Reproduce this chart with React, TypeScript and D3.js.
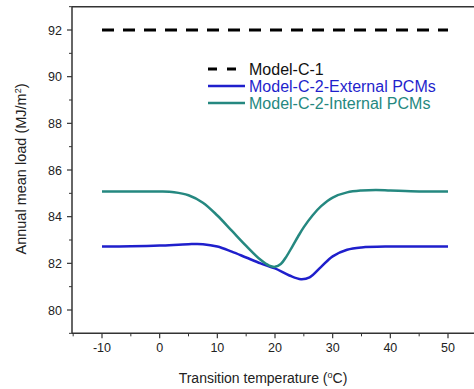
import React from "react";
import * as d3 from "d3";

const seriesNames = ["Model-C-1", "Model-C-2-External PCMs", "Model-C-2-Internal PCMs"];
const seriesColors = ["#000000", "#1f1fcc", "#258880"];

const c1Temps = [-10, 50];
const c1Values = [92, 92];

const extTemps = [-10, -5, 0, 5, 7.5, 10, 12.5, 15, 17.5, 20, 22.5, 24.5, 26, 28, 30, 32.5, 35, 40, 45, 50];
const extValues = [82.72, 82.73, 82.76, 82.82, 82.82, 82.72, 82.5, 82.25, 82.0, 81.78, 81.48, 81.32, 81.4, 81.85, 82.3, 82.58, 82.68, 82.72, 82.72, 82.72];

const intTemps = [-10, -5, 0, 2.5, 5, 7.5, 10, 12.5, 15, 17.5, 19, 20, 21, 22, 23, 24, 25, 26.5, 28, 30, 32.5, 35, 37.5, 40, 45, 50];
const intValues = [85.08, 85.08, 85.08, 85.05, 84.92, 84.6, 84.05, 83.4, 82.75, 82.15, 81.9, 81.85, 81.97, 82.3, 82.72, 83.15, 83.55, 84.05, 84.45, 84.82, 85.04, 85.12, 85.14, 85.12, 85.08, 85.08];

const xTicks = [-10, 0, 10, 20, 30, 40, 50];
const xMinor = [-15, -5, 5, 15, 25, 35, 45];
const yTicks = [80, 82, 84, 86, 88, 90, 92];
const yMinor = [79, 81, 83, 85, 87, 89, 91, 93];

export default function App() {
  const x = d3.scaleLinear().domain([-10, 50]).range([102, 448]);
  const y = d3.scaleLinear().domain([80, 92]).range([310, 30]);
  const left = 72;
  const right = 474;
  const top = y(93);
  const bottom = y(79);
  const line = d3
    .line<[number, number]>()
    .x((d) => x(d[0]))
    .y((d) => y(d[1]))
    .curve(d3.curveCatmullRom.alpha(0.5));
  const zip = (a: number[], b: number[]) => a.map((t, i) => [t, b[i]] as [number, number]);
  const axisColor = "#333";
  const font = "Arial, 'Liberation Sans', sans-serif";
  const legendY = [69, 86, 103];

  return (
    <svg
      width={474}
      height={389}
      style={{ position: "absolute", left: 0, top: 0, background: "#fff" }}
      fontFamily={font}
    >
      <rect x={0} y={0} width={474} height={389} fill="#fff" />
      <line x1={left} x2={right} y1={top} y2={top} stroke={axisColor} strokeWidth={1.5} />
      <line x1={left} x2={right} y1={bottom} y2={bottom} stroke={axisColor} strokeWidth={1.5} />
      <line x1={left} x2={left} y1={top} y2={bottom} stroke={axisColor} strokeWidth={1.5} />
      {yTicks.map((t) => (
        <g key={"y" + t}>
          <line x1={left - 5} x2={left} y1={y(t)} y2={y(t)} stroke={axisColor} strokeWidth={1.2} />
          <text x={left - 10} y={y(t)} dy="0.36em" textAnchor="end" fontSize={12.5} fill="#222">
            {t}
          </text>
        </g>
      ))}
      {yMinor.map((t) => (
        <line key={"ym" + t} x1={left - 3} x2={left} y1={y(t)} y2={y(t)} stroke={axisColor} strokeWidth={1} />
      ))}
      {xTicks.map((t) => (
        <g key={"x" + t}>
          <line x1={x(t)} x2={x(t)} y1={bottom} y2={bottom + 5} stroke={axisColor} strokeWidth={1.2} />
          <text x={x(t)} y={bottom + 19} textAnchor="middle" fontSize={12.5} fill="#222">
            {t}
          </text>
        </g>
      ))}
      {xMinor.map((t) => (
        <line key={"xm" + t} x1={x(t)} x2={x(t)} y1={bottom} y2={bottom + 3} stroke={axisColor} strokeWidth={1} />
      ))}
      <path d={line(zip(c1Temps, c1Values)) || ""} fill="none" stroke={seriesColors[0]} strokeWidth={3} strokeDasharray="12,9" />
      <path d={line(zip(extTemps, extValues)) || ""} fill="none" stroke={seriesColors[1]} strokeWidth={2.5} />
      <path d={line(zip(intTemps, intValues)) || ""} fill="none" stroke={seriesColors[2]} strokeWidth={2.5} />
      {seriesNames.map((n, i) => (
        <g key={n}>
          <line
            x1={208}
            x2={245}
            y1={legendY[i]}
            y2={legendY[i]}
            stroke={seriesColors[i]}
            strokeWidth={i === 0 ? 3 : 2.5}
            strokeDasharray={i === 0 ? "9,10" : undefined}
          />
          <text x={249} y={legendY[i]} dy="0.36em" fontSize={16} fill={i === 0 ? "#111" : seriesColors[i]}>
            {n}
          </text>
        </g>
      ))}
      <text x={263} y={383} textAnchor="middle" fontSize={14} fill="#222">
        Transition temperature (
        <tspan dy={-5} fontSize={9}>o</tspan>
        <tspan dy={5}>C)</tspan>
      </text>
      <text
        transform={`translate(26, ${169}) rotate(-90)`}
        textAnchor="middle"
        fontSize={14.5}
        fill="#222"
      >
        Annual mean load (MJ/m
        <tspan dy={-5} fontSize={9}>2</tspan>
        <tspan dy={5}>)</tspan>
      </text>
    </svg>
  );
}
